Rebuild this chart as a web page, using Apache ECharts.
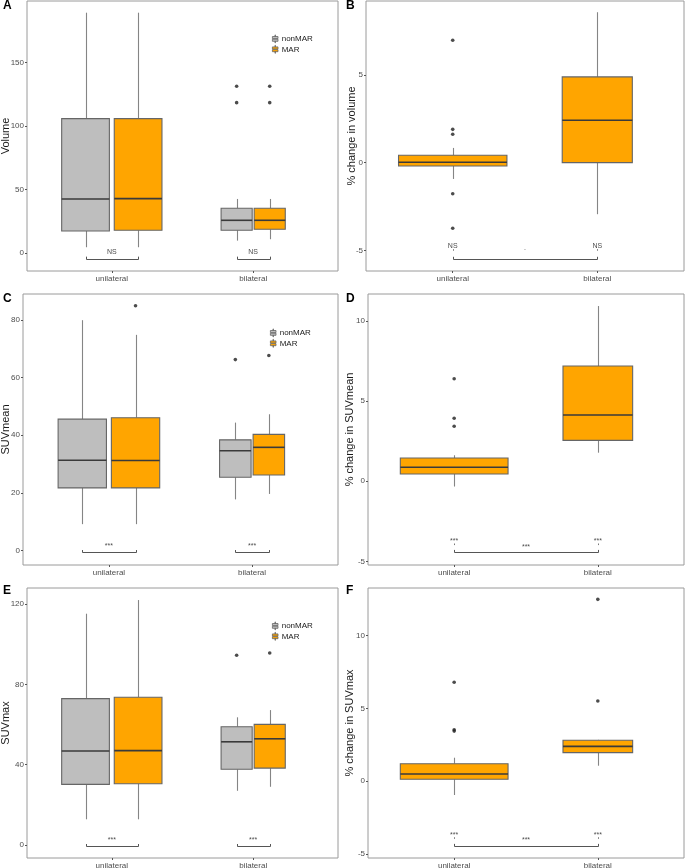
<!DOCTYPE html>
<html><head><meta charset="utf-8">
<script src="https://cdn.jsdelivr.net/npm/echarts@6/dist/echarts.min.js"></script>
<style>html,body{margin:0;padding:0;background:#fff}#c{width:685px;height:868px}</style>
</head><body><div id="c"></div>
<script>
// ---------------- DATA ----------------
const categories = ['unilateral', 'bilateral'];
const groups = ['nonMAR', 'MAR'];
// box stats per category: [lower whisker, Q1, median, Q3, upper whisker]
const volNonMAR = [[4.5, 17.3, 42.5, 105.7, 189.1], [9.7, 17.9, 25.7, 35.2, 42.5]];
const volMAR    = [[4.5, 17.9, 42.8, 105.7, 189.1], [10.8, 18.6, 25.7, 35.2, 42.5]];
const volNonMAROut = [[], [131.2, 118.3]];
const volMAROut    = [[], [131.2, 118.3]];
const volChange    = [[-0.93, -0.19, 0.02, 0.42, 0.84], [-2.94, 0, 2.42, 4.89, 8.58]];
const volChangeOut = [[6.98, 1.9, 1.62, -1.77, -3.74], []];

const meanNonMAR = [[9.1, 21.7, 31.3, 45.6, 80], [17.7, 25.4, 34.6, 38.4, 44.4]];
const meanMAR    = [[9.1, 21.7, 31.2, 46.1, 74.9], [19.6, 26.2, 35.8, 40.3, 47.3]];
const meanNonMAROut = [[], [66.3]];
const meanMAROut    = [[85], [67.7]];
const meanChange    = [[-0.33, 0.45, 0.87, 1.45, 1.62], [1.78, 2.55, 4.13, 7.18, 10.92]];
const meanChangeOut = [[6.39, 3.93, 3.43], []];

const maxNonMAR = [[12.8, 30.2, 46.8, 72.9, 115.2], [27.0, 37.7, 51.4, 58.9, 63.6]];
const maxMAR    = [[12.8, 30.5, 47.0, 73.6, 122], [29.0, 38.3, 52.9, 60.1, 67.2]];
const maxNonMAROut = [[], [94.5]];
const maxMAROut    = [[], [95.6]];
const maxChange    = [[-0.94, 0.14, 0.5, 1.21, 1.62], [1.07, 1.97, 2.4, 2.82, 2.85]];
const maxChangeOut = [[6.8, 3.54, 3.45], [12.5, 5.52]];

const yTicksA = [0, 50, 100, 150];
const yTicksB = [-5, 0, 5];
const yTicksC = [0, 20, 40, 60, 80];
const yTicksD = [-5, 0, 5, 10];
const yTicksE = [0, 40, 80, 120];
const yTicksF = [-5, 0, 5, 10];

const sigA = ['NS', 'NS'];
const sigB = ['NS', 'NS'];  const sigBbetween = '.';
const sigC = ['***', '***'];
const sigD = ['***', '***']; const sigDbetween = '***';
const sigE = ['***', '***'];
const sigF = ['***', '***']; const sigFbetween = '***';

const yTitles = ['Volume', '% change in volume', 'SUVmean', '% change in SUVmean', 'SUVmax', '% change in SUVmax'];
const panelLetters = ['A', 'B', 'C', 'D', 'E', 'F'];

// ---------------- LAYOUT / STYLE ----------------
const FONT = '"Liberation Sans", Arial, Helvetica, sans-serif';
const COL = { nonMAR: '#BEBEBE', MAR: '#FFA500' };
const layout = [
  { grid: { left: 27, top: 1, width: 311, height: 270 }, ymin: -14.2, ymax: 198.3, ticks: yTicksA, nameGap: 16, lab: [3, 0] },
  { grid: { left: 366, top: 1, width: 318, height: 270 }, ymin: -6.18, ymax: 9.22, ticks: yTicksB, nameGap: 9, lab: [346, 0] },
  { grid: { left: 23, top: 294, width: 315, height: 271 }, ymin: -5.1, ymax: 89.1, ticks: yTicksC, nameGap: 12, lab: [3, 293] },
  { grid: { left: 368, top: 294, width: 316, height: 271 }, ymin: -5.22, ymax: 11.67, ticks: yTicksD, nameGap: 12.5, lab: [346, 293] },
  { grid: { left: 27, top: 588, width: 311, height: 270 }, ymin: -6.47, ymax: 128, ticks: yTicksE, nameGap: 16, lab: [3, 585] },
  { grid: { left: 368, top: 588, width: 316, height: 270 }, ymin: -5.27, ymax: 13.28, ticks: yTicksF, nameGap: 12.5, lab: [346, 585] }
];
const pairOff = { nonMAR: [-0.186, -0.117], MAR: [0.186, 0.117] };
const pairW = [0.3375, 0.22];
const singleW = [0.75, 0.485];

const pairedPanels = [
  { p: 0, non: volNonMAR, mar: volMAR, nonOut: volNonMAROut, marOut: volMAROut, sig: sigA, L: { bracketY: -4.7, tickTop: -2.9, textY: 0.5 }, legendPos: [267, 29.5] },
  { p: 2, non: meanNonMAR, mar: meanMAR, nonOut: meanNonMAROut, marOut: meanMAROut, sig: sigC, L: { bracketY: -0.6, tickTop: 0.1, textY: 2.1 }, legendPos: [265, 323.5] },
  { p: 4, non: maxNonMAR, mar: maxMAR, nonOut: maxNonMAROut, marOut: maxMAROut, sig: sigE, L: { bracketY: -0.5, tickTop: 0.5, textY: 3.3 }, legendPos: [267, 616.5] }
];
const singlePanels = [
  { p: 1, data: volChange, out: volChangeOut, sig: sigB, between: sigBbetween, L: { textY: -4.75, dotY: -4.98, midY: -5.02, bracketY: -5.5, tickTop: -5.37 } },
  { p: 3, data: meanChange, out: meanChangeOut, sig: sigD, between: sigDbetween, L: { textY: -3.6, dotY: -3.93, midY: -3.97, bracketY: -4.42, tickTop: -4.28 } },
  { p: 5, data: maxChange, out: maxChangeOut, sig: sigF, between: sigFbetween, L: { textY: -3.57, dotY: -3.9, midY: -3.94, bracketY: -4.44, tickTop: -4.3 } }
];

function textDy(t) { return t === '.' ? -2.5 : (t.indexOf('*') >= 0 ? 1.8 : 0); }

function boxRender(offsets, widths, fill) {
  return function (params, api) {
    const ci = api.value(0), i = ci - 1;
    const xc = ci + offsets[i], hw = widths[i] / 2;
    const low = api.value(1), q1 = api.value(2), med = api.value(3), q3 = api.value(4), high = api.value(5);
    const tl = api.coord([xc - hw, q3]), br = api.coord([xc + hw, q1]);
    const c = v => api.coord([xc, v]);
    const m1 = api.coord([xc - hw, med]), m2 = api.coord([xc + hw, med]);
    const x = Math.round(c(0)[0]) + 0.5;
    return {
      type: 'group', children: [
        { type: 'line', shape: { x1: x, y1: c(high)[1], x2: x, y2: c(q3)[1] }, style: { stroke: '#858585', lineWidth: 1.1 } },
        { type: 'line', shape: { x1: x, y1: c(q1)[1], x2: x, y2: c(low)[1] }, style: { stroke: '#858585', lineWidth: 1.1 } },
        { type: 'rect', shape: { x: tl[0], y: tl[1], width: br[0] - tl[0], height: br[1] - tl[1] }, style: { fill: fill, stroke: '#666666', lineWidth: 1.1 } },
        { type: 'line', shape: { x1: m1[0], y1: m1[1], x2: m2[0], y2: m2[1] }, style: { stroke: '#3a3a3a', lineWidth: 1.6 } }
      ]
    };
  };
}

const option = {
  animation: false,
  backgroundColor: '#ffffff',
  textStyle: { fontFamily: FONT },
  grid: [], xAxis: [], yAxis: [], series: [], legend: [], graphic: []
};

layout.forEach((L, k) => {
  option.grid.push(Object.assign({ show: true, borderColor: '#9a9a9a', borderWidth: 1, backgroundColor: '#ffffff', containLabel: false, outerBoundsMode: 'none' }, L.grid));
  option.xAxis.push({
    type: 'value', gridIndex: k, min: 0.4, max: 2.6, position: 'bottom',
    axisLine: { show: false, onZero: false }, splitLine: { show: false },
    axisTick: { show: true, customValues: [1, 2], length: 2, lineStyle: { color: '#555' } },
    axisLabel: { customValues: [1, 2], formatter: v => categories[Math.round(v) - 1], fontSize: 8, color: '#4d4d4d', margin: 4, fontFamily: FONT }
  });
  option.yAxis.push({
    type: 'value', gridIndex: k, min: L.ymin, max: L.ymax, position: 'left',
    name: yTitles[k], nameLocation: 'middle', nameGap: L.nameGap, nameMoveOverlap: false,
    nameTextStyle: { fontSize: 11, color: '#1a1a1a', fontFamily: FONT },
    axisLine: { show: false, onZero: false }, splitLine: { show: false },
    axisTick: { show: true, customValues: L.ticks, length: 2, lineStyle: { color: '#555' } },
    axisLabel: { customValues: L.ticks, fontSize: 8, color: '#4d4d4d', margin: 3, fontFamily: FONT }
  });
  option.graphic.push({ type: 'text', left: L.lab[0], top: L.lab[1], style: { text: panelLetters[k], font: 'bold 12px ' + FONT, fill: '#000' } });
});

pairedPanels.forEach(P => {
  const k = P.p;
  [['nonMAR', P.non, P.nonOut], ['MAR', P.mar, P.marOut]].forEach(([g, stats, outs]) => {
    option.series.push({
      type: 'custom', name: g, xAxisIndex: k, yAxisIndex: k, silent: true,
      itemStyle: { color: COL[g] },
      renderItem: boxRender(pairOff[g], pairW, COL[g]),
      encode: { x: 0, y: [1, 2, 3, 4, 5] },
      data: stats.map((s, i) => [i + 1].concat(s))
    });
    const pts = [];
    outs.forEach((arr, i) => arr.forEach(v => pts.push([i + 1 + pairOff[g][i], v])));
    option.series.push({
      type: 'scatter', name: 'out' + g, xAxisIndex: k, yAxisIndex: k, silent: true,
      symbol: 'circle', symbolSize: 3.6, itemStyle: { color: '#1f1f1f' }, data: pts
    });
  });
  const L = P.L, sig = P.sig;
  option.series.push({
    type: 'custom', name: 'sig', xAxisIndex: k, yAxisIndex: k, silent: true,
    encode: { x: [0, 1], y: 2 },
    data: categories.map((c, i) => [i + 1 + pairOff.nonMAR[i], i + 1 + pairOff.MAR[i], L.bracketY, i + 1]),
    renderItem: (params, api) => {
      const x1 = api.value(0), x2 = api.value(1), xc = api.value(3);
      const p1 = api.coord([x1, L.bracketY]), p2 = api.coord([x2, L.bracketY]);
      const t = api.coord([x1, L.tickTop]);
      const tc = api.coord([xc, L.textY]);
      const s = sig[params.dataIndex];
      const y = Math.round(p1[1]) + 0.5;
      return {
        type: 'group', children: [
          { type: 'polyline', shape: { points: [[Math.round(p1[0]) + 0.5, t[1]], [Math.round(p1[0]) + 0.5, y], [Math.round(p2[0]) + 0.5, y], [Math.round(p2[0]) + 0.5, t[1]]] }, style: { stroke: '#555', lineWidth: 1, fill: null } },
          { type: 'text', x: tc[0], y: tc[1] + textDy(s), style: { text: s, align: 'center', verticalAlign: 'middle', fontSize: 7, fontFamily: FONT, fill: '#4d4d4d' } }
        ]
      };
    }
  });
  option.legend.push({
    orient: 'vertical', left: P.legendPos[0], top: P.legendPos[1],
    itemWidth: 7, itemHeight: 8, itemGap: 1.6,
    textStyle: { fontSize: 8, color: '#1a1a1a', fontFamily: FONT, padding: [0, 0, 0, -2] },
    selectedMode: false,
    data: groups.map(g => ({
      name: g,
      icon: 'path://M0,2 H7 V4.6 H0 Z M0,5.4 H7 V8 H0 Z M3.3,0 H3.7 V2 H3.3 Z M3.3,8 H3.7 V10 H3.3 Z',
      itemStyle: { color: COL[g], borderColor: '#666666', borderWidth: 0.8 }
    }))
  });
});

singlePanels.forEach(P => {
  const k = P.p, L = P.L;
  option.series.push({
    type: 'custom', name: 'MAR', xAxisIndex: k, yAxisIndex: k, silent: true,
    itemStyle: { color: COL.MAR },
    renderItem: boxRender([0, 0], singleW, COL.MAR),
    encode: { x: 0, y: [1, 2, 3, 4, 5] },
    data: P.data.map((s, i) => [i + 1].concat(s))
  });
  const pts = [];
  P.out.forEach((arr, i) => arr.forEach(v => pts.push([i + 1, v])));
  option.series.push({
    type: 'scatter', name: 'outMAR', xAxisIndex: k, yAxisIndex: k, silent: true,
    symbol: 'circle', symbolSize: 3.6, itemStyle: { color: '#1f1f1f' }, data: pts
  });
  option.series.push({
    type: 'custom', name: 'sig', xAxisIndex: k, yAxisIndex: k, silent: true,
    encode: { x: [0, 1], y: 2 },
    data: [[1, 2, L.bracketY]],
    renderItem: (params, api) => {
      const p1 = api.coord([1, L.bracketY]), p2 = api.coord([2, L.bracketY]);
      const t = api.coord([1, L.tickTop]);
      const y = Math.round(p1[1]) + 0.5;
      const xa = Math.round(p1[0]) + 0.5, xb = Math.round(p2[0]) + 0.5;
      const ch = [
        { type: 'polyline', shape: { points: [[xa, t[1]], [xa, y], [xb, y], [xb, t[1]]] }, style: { stroke: '#555', lineWidth: 1, fill: null } }
      ];
      [1, 2].forEach((ci, i) => {
        const tc = api.coord([ci, L.textY]);
        const d = api.coord([ci, L.dotY]);
        ch.push({ type: 'text', x: tc[0], y: tc[1] + textDy(P.sig[i]), style: { text: P.sig[i], align: 'center', verticalAlign: 'middle', fontSize: 7, fontFamily: FONT, fill: '#4d4d4d' } });
        ch.push({ type: 'line', shape: { x1: Math.round(d[0]) + 0.5, y1: d[1] - 0.8, x2: Math.round(d[0]) + 0.5, y2: d[1] + 0.8 }, style: { stroke: '#777', lineWidth: 1 } });
      });
      const mc = api.coord([1.5, L.midY]);
      ch.push({ type: 'text', x: mc[0], y: mc[1] + textDy(P.between), style: { text: P.between, align: 'center', verticalAlign: 'middle', fontSize: 7, fontFamily: FONT, fill: '#4d4d4d' } });
      return { type: 'group', children: ch };
    }
  });
});

const chart = echarts.init(document.getElementById('c'), null, { renderer: 'canvas' });
chart.setOption(option);
</script>
</body></html>
